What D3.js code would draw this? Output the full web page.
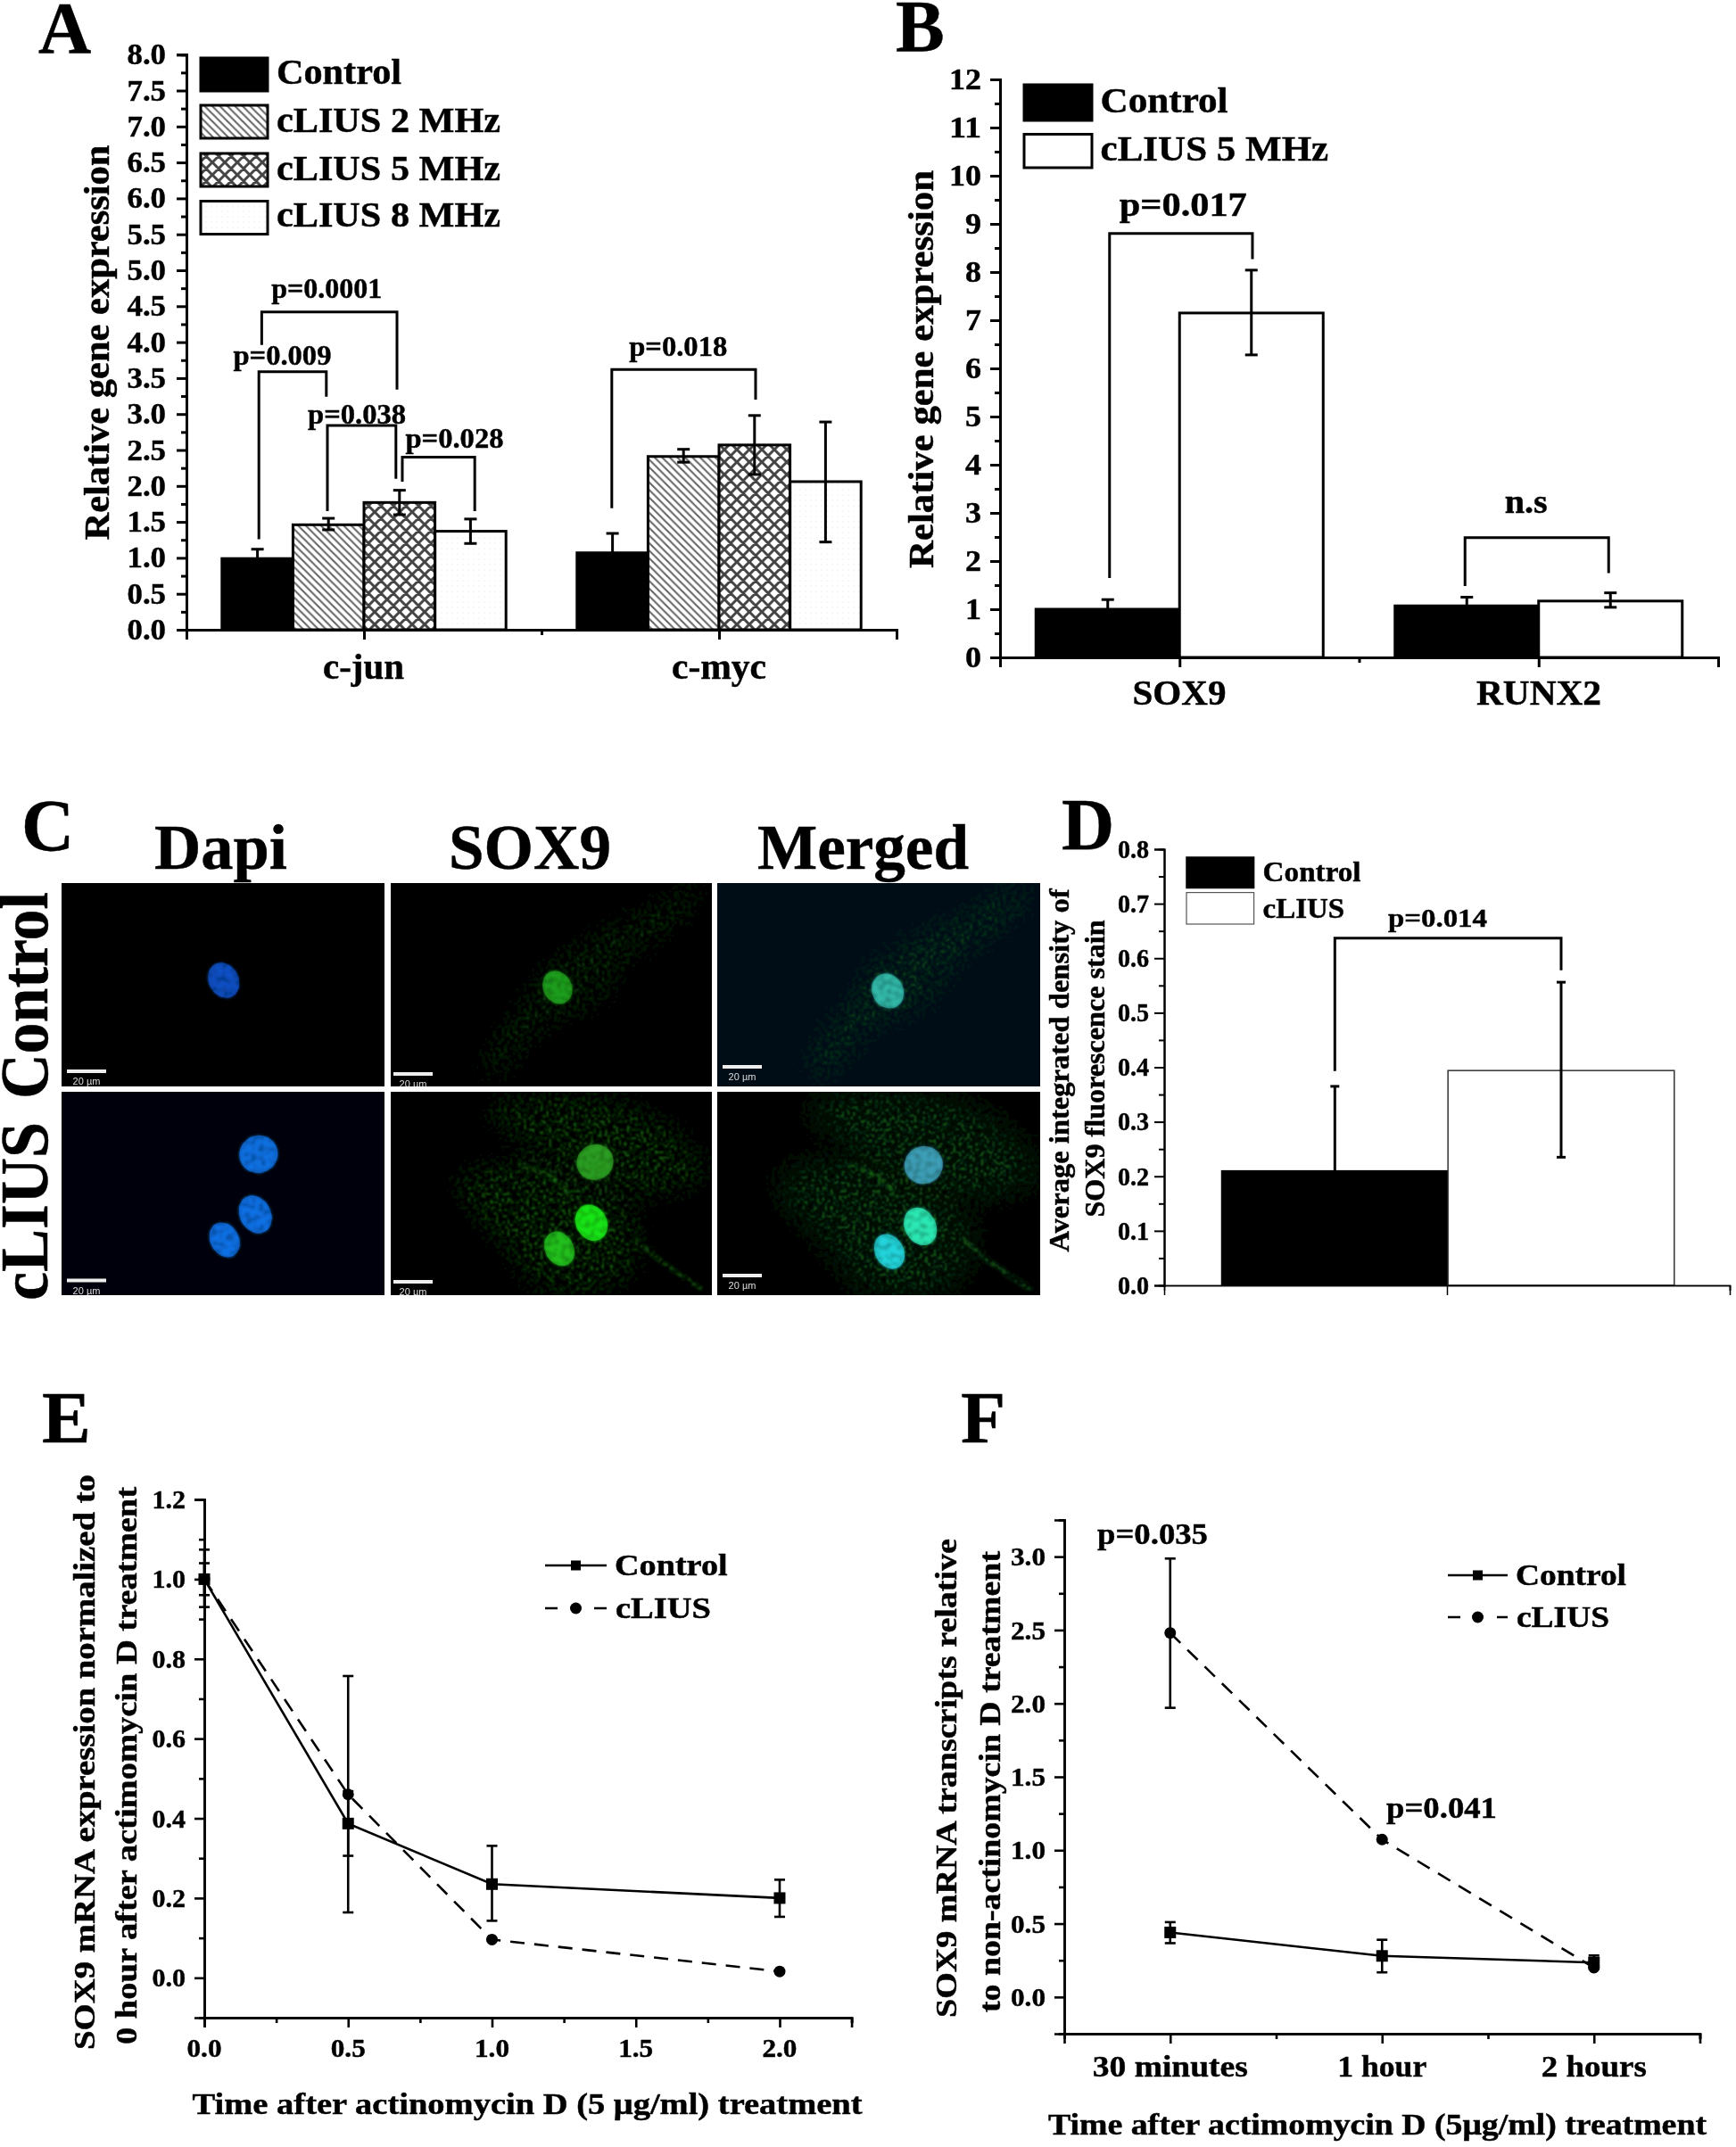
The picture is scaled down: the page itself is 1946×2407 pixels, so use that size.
<!DOCTYPE html>
<html><head><meta charset="utf-8">
<script src="https://d3js.org/d3.v7.min.js"></script>
<style>
html,body{margin:0;padding:0;background:#fff}
svg{display:block}
text{font-family:"Liberation Serif",serif;font-weight:700;fill:#000;stroke:#000;stroke-width:.45px}
text.sans{font-family:"Liberation Sans",sans-serif;font-weight:400;stroke:none}
</style></head><body>
<script>
// ---------- data ----------
const aCategories=["c-jun","c-myc"];
const aSeries=["Control","cLIUS 2 MHz","cLIUS 5 MHz","cLIUS 8 MHz"];
const aValues=[[0.99,1.46,1.77,1.37],[1.07,2.41,2.57,2.06]];
const aErrLow=[[0.86,1.39,1.60,1.20],[0.80,2.33,2.16,1.22]];
const aErrHigh=[[1.12,1.55,1.94,1.54],[1.34,2.51,2.98,2.89]];
const aBrackets=[
 {label:"p=0.0001",x0:0.712,x1:1.093,top:4.42,l:3.96,r:3.34,tx:0.895,ty:4.62,len:124},
 {label:"p=0.009",x0:0.704,x1:0.894,top:3.59,l:1.26,r:3.24,tx:0.77,ty:3.68,len:110},
 {label:"p=0.038",x0:0.897,x1:1.090,top:2.84,l:1.65,r:2.10,tx:0.98,ty:2.87,len:110},
 {label:"p=0.028",x0:1.108,x1:1.312,top:2.40,l:2.06,r:1.65,tx:1.255,ty:2.53,len:110},
 {label:"p=0.018",x0:1.698,x1:2.103,top:3.62,l:1.69,r:3.20,tx:1.885,ty:3.81,len:110}];
const aTicks=["0.0","0.5","1.0","1.5","2.0","2.5","3.0","3.5","4.0","4.5","5.0","5.5","6.0","6.5","7.0","7.5","8.0"];

const bCategories=["SOX9","RUNX2"];
const bSeries=["Control","cLIUS 5 MHz"];
const bValues=[[1.0,7.15],[1.07,1.17]];
const bErrLow=[[0.84,6.28],[0.95,1.04]];
const bErrHigh=[[1.20,8.04],[1.25,1.34]];
const bBrackets=[
 {label:"p=0.017",x0:0.805,x1:1.203,top:8.80,l:1.65,r:8.27,tx:1.01,ty:9.17,len:143},
 {label:"n.s",x0:1.795,x1:2.195,top:2.485,l:1.48,r:1.75,tx:1.965,ty:3.0,len:48}];

const dSeries=["Control","cLIUS"];
const dValues=[0.21,0.394];
const dErrLow=[0.055,0.235];
const dErrHigh=[0.365,0.556];
const dBracket={label:"p=0.014",top:0.637,l:0.393,r:0.578};

const eTimes=[0,0.5,1,2];
const eControl=[1.0,0.387,0.235,0.20];
const eControlLow=[0.93,0.306,0.143,0.153];
const eControlHigh=[1.074,0.468,0.331,0.246];
const eLius=[1.0,0.46,0.096,0.016];
const eLiusLow=[0.96,0.164,0.096,0.016];
const eLiusHigh=[1.04,0.757,0.096,0.016];

const fLabels=["30 minutes","1 hour","2 hours"];
const fControl=[0.44,0.28,0.235];
const fControlLow=[0.367,0.168,0.19];
const fControlHigh=[0.51,0.39,0.283];
const fLius=[2.48,1.073,0.20];
const fLiusLow=[1.97,1.073,0.20];
const fLiusHigh=[2.987,1.073,0.20];

const cColumns=["Dapi","SOX9","Merged"];
const cRows=["Control","cLIUS"];
// nuclei of each micrograph: fraction across, fraction down, radii, colour
const cNuclei=[
 [[[.502,.478,.046,.090,"#0c50c4"]],
  [[.519,.513,.044,.084,"#1e9e1c"]],
  [[.528,.531,.048,.088,"#30b8a8"]]],
 [[[.610,.307,.060,.092,"#0f6fe0"],[.600,.603,.048,.097,"#0f70e4"],[.505,.728,.044,.090,"#0f70e4"]],
  [[.636,.346,.0580,.086,"#2c9e22"],[.625,.644,.048,.092,"#18e614"],[.525,.772,.044,.088,"#20c01c"]],
  [[.639,.360,.060,.092,"#3c9fb8"],[.629,.662,.048,.097,"#2ce8b4"],[.533,.785,.044,.090,"#24d4dc"]]]];
const cCellTop=[[.92,.02],[.98,.03],[.88,.22],[.72,.42],[.66,.58],[.52,.68],[.42,.80],[.34,.96],[.28,.92],[.34,.72],[.42,.56],[.46,.44],[.62,.26],[.78,.14]];
const cCellA=[[.30,.08],[.6,.02],[.85,.15],[.98,.40],[.85,.50],[.65,.48],[.5,.35]];
const cCellB=[[.20,.45],[.40,.35],[.6,.45],[.75,.6],[.78,.78],[.70,.95],[.48,.98],[.35,.75]];
const cTail=[[.76,.72],[.84,.83],[.97,.97]];
const cFibre=[[.40,.36],[.50,.42],[.56,.52]];

// ---------- setup ----------
const svg=d3.select("body").append("svg").attr("width",1946).attr("height",2407).attr("viewBox","0 0 1946 2407");
svg.append("rect").attr("width",1946).attr("height",2407).attr("fill","#fff");
const defs=svg.append("defs");
const soft=defs.append("filter").attr("id","soft").attr("filterUnits","userSpaceOnUse").attr("x",0).attr("y",0).attr("width",1946).attr("height",2407);
soft.append("feGaussianBlur").attr("stdDeviation",0.75);
function speck(id,freq,blur,gain,off,seed){
 const f=defs.append("filter").attr("id",id).attr("x","-30%").attr("y","-30%").attr("width","160%").attr("height","160%");
 f.append("feTurbulence").attr("type","fractalNoise").attr("baseFrequency",freq).attr("numOctaves",1).attr("seed",seed).attr("result","n");
 f.append("feColorMatrix").attr("in","n").attr("type","matrix").attr("values",`0 0 0 0 0 0 0 0 0 0 0 0 0 0 0 ${gain} 0 0 0 ${off}`).attr("result","a");
 f.append("feGaussianBlur").attr("in","SourceGraphic").attr("stdDeviation",blur).attr("result","b");
 f.append("feComposite").attr("in","b").attr("in2","a").attr("operator","in").attr("result","c");
 f.append("feGaussianBlur").attr("in","c").attr("stdDeviation",0.8);
}
speck("cell",0.32,14,6,-3.0,4);
speck("tail",0.25,1.5,6,-2.4,9);
speck("nuc",0.16,1.2,2.4,-0.4,7);
const p1=defs.append("pattern").attr("id","hatch").attr("patternUnits","userSpaceOnUse").attr("width",8.5).attr("height",8.5);
p1.append("path").attr("d","M-2,-2L10.5,10.5M-2,6.5L2,10.5M6.5,-2L10.5,2").attr("stroke","#666").attr("stroke-width",2.1);
const p2=defs.append("pattern").attr("id","cross").attr("patternUnits","userSpaceOnUse").attr("width",14).attr("height",14);
p2.append("rect").attr("width",14).attr("height",14).attr("fill","#fff");
p2.append("path").attr("d","M-2,-2L16,16M16,-2L-2,16M-2,12L2,16M12,-2L16,2M2,-2L-2,2M16,12L12,16").attr("stroke","#444").attr("stroke-width",3);
const p3=defs.append("pattern").attr("id","dots").attr("patternUnits","userSpaceOnUse").attr("width",6).attr("height",6);
p3.append("circle").attr("cx",3).attr("cy",3).attr("r",0.6).attr("fill","#dcdcdc");
const fills=["#000","url(#hatch)","url(#cross)","url(#dots)"];

const root=svg.append("g").attr("filter","url(#soft)");
function txt(x,y,s,size,len,opt={}){
 const t=root.append("text").attr("font-size",size).text(s)
  .attr("text-anchor",opt.anchor||"start");
 if(opt.rot) t.attr("transform",`translate(${x},${y}) rotate(-90)`); else t.attr("x",x).attr("y",y);
 if(len) t.attr("textLength",len).attr("lengthAdjust","spacingAndGlyphs");
 return t;
}
// axis pair: major with labels, minor without
function leftAxis(y,x,major,minor,fmt,size,charLen,sw=3,pad=10){
 const g=root.append("g").attr("transform",`translate(${x},0)`);
 const m=g.append("g").call(d3.axisLeft(y).tickValues(major).tickSize(11).tickPadding(pad).tickFormat(fmt));
 g.append("g").call(d3.axisLeft(y).tickValues(minor).tickSize(6).tickFormat(""));
 g.selectAll("path,line").attr("stroke","#000").attr("stroke-width",sw);
 m.selectAll("text").attr("font-size",size).attr("font-family",null).attr("fill","#000")
  .each(function(){const s=d3.select(this).text();d3.select(this).attr("textLength",s.length*charLen).attr("lengthAdjust","spacingAndGlyphs");});
 return g;
}
function bottomAxis(x,y,major,minor,sw=3){
 const g=root.append("g").attr("transform",`translate(0,${y})`);
 g.append("g").call(d3.axisBottom(x).tickValues(major).tickSize(11).tickFormat(""));
 g.append("g").call(d3.axisBottom(x).tickValues(minor).tickSize(6).tickFormat(""));
 g.selectAll("path,line").attr("stroke","#000").attr("stroke-width",sw);
 return g;
}
function errBar(cx,lo,hi,cap,sw=3){
 const g=root.append("g").attr("stroke","#000").attr("stroke-width",sw);
 g.append("line").attr("x1",cx).attr("x2",cx).attr("y1",lo).attr("y2",hi);
 [lo,hi].forEach(v=>g.append("line").attr("x1",cx-cap).attr("x2",cx+cap).attr("y1",v).attr("y2",v));
}
function bracket(x0,x1,top,l,r,sw=3){
 root.append("path").attr("fill","none").attr("stroke","#000").attr("stroke-width",sw)
  .attr("d",d3.line()([[x0,l],[x0,top],[x1,top],[x1,r]]));
}
function swatch(x,y,w,h,fill,sw=3,stroke="#000"){
 root.append("rect").attr("x",x).attr("y",y).attr("width",w).attr("height",h).attr("fill",fill).attr("stroke",stroke).attr("stroke-width",sw);
}

// ---------- panel letters ----------
[["A",43,59],["B",1004,57],["C",24,953],["D",1190,952],["E",47,1617],["F",1077,1617]].forEach(d=>txt(d[1],d[2],d[0],82));

// ---------- panel A ----------
{
 const x=d3.scaleLinear().domain([0.5,2.5]).range([209,1005]);
 const y=d3.scaleLinear().domain([0,8]).range([706,61.2]);
 const w=x(1.2)-x(1);
 aCategories.forEach((c,ci)=>aSeries.forEach((s,si)=>{
  const left=x(ci+1+(si-2)*0.2);
  root.append("rect").attr("x",left).attr("y",y(aValues[ci][si])).attr("width",w).attr("height",y(0)-y(aValues[ci][si]))
   .attr("fill",fills[si]).attr("stroke","#000").attr("stroke-width",3);
 }));
 aCategories.forEach((c,ci)=>aSeries.forEach((s,si)=>{
  errBar(x(ci+1+(si-2)*0.2)+w/2,y(aErrLow[ci][si]),y(aErrHigh[ci][si]),7);
 }));
 leftAxis(y,x(0.5),aTicks.map(Number),d3.range(0.25,8,0.5),d3.format(".1f"),33,14.5,3,12);
 bottomAxis(x,y(0),[1,2],[0.5,1.5,2.5]);
 aBrackets.forEach(b=>{
  bracket(x(b.x0),x(b.x1),y(b.top),y(b.l),y(b.r));
  txt(x(b.tx),y(b.ty),b.label,32,b.len,{anchor:"middle"});
 });
 txt(122,384,"Relative gene expression",39,443,{rot:1,anchor:"middle"});
 txt(407.5,761,aCategories[0],39,91,{anchor:"middle"});
 txt(806,761,aCategories[1],39,106,{anchor:"middle"});
 const rows=[65,118,172,225.5], bases=[94.4,148,201.5,254], lens=[140,251,251,251];
 aSeries.forEach((s,i)=>{swatch(225,rows[i],75,37,i==0?"#000":fills[i]);txt(310,bases[i],s,39,lens[i]);});
}

// ---------- panel B ----------
{
 const x=d3.scaleLinear().domain([0.5,2.5]).range([1121,1926]);
 const y=d3.scaleLinear().domain([0,12]).range([737,89]);
 const w=x(1.4)-x(1);
 bCategories.forEach((c,ci)=>bSeries.forEach((s,si)=>{
  const left=x(ci+1+(si-1)*0.4);
  root.append("rect").attr("x",left).attr("y",y(bValues[ci][si])).attr("width",w).attr("height",y(0)-y(bValues[ci][si]))
   .attr("fill",si?"#fff":"#000").attr("stroke","#000").attr("stroke-width",3);
 }));
 bCategories.forEach((c,ci)=>bSeries.forEach((s,si)=>{
  errBar(x(ci+1+(si-1)*0.4)+w/2,y(bErrLow[ci][si]),y(bErrHigh[ci][si]),7);
 }));
 leftAxis(y,x(0.5),d3.range(0,13),d3.range(0.5,12,1),d3.format("d"),33,18,3,10);
 bottomAxis(x,y(0),[1,2],[0.5,1.5,2.5]);
 bBrackets.forEach(b=>{
  bracket(x(b.x0),x(b.x1),y(b.top),y(b.l),y(b.r));
  txt(x(b.tx),y(b.ty),b.label,38,b.len,{anchor:"middle"});
 });
 txt(1046,414,"Relative gene expression",39,446,{rot:1,anchor:"middle"});
 txt(1322,790,bCategories[0],39,105,{anchor:"middle"});
 txt(1725,790,bCategories[1],39,140,{anchor:"middle"});
 swatch(1148,95,76,40,"#000");swatch(1148,150.5,76,37.5,"#fff");
 txt(1233.6,126,bSeries[0],39,143);txt(1233.6,180,bSeries[1],39,255.6);
}

// ---------- panel C ----------
{
 const colX=[[69,431],[438,798],[804,1166]], rowY=[[990,1218],[1224,1452]];
 const heads=[[173,149],[503,182],[849,237]];
 cColumns.forEach((c,i)=>txt(heads[i][0],974,c,71,heads[i][1]));
 txt(53,1116,cRows[0],76,232,{rot:1,anchor:"middle"});
 txt(53,1358,cRows[1],76,200,{rot:1,anchor:"middle"});
 const barsY=[[1201,1204,1196],[1435.5,1437,1430]];
 const barX=[75,441,810];
 cRows.forEach((r,ri)=>cColumns.forEach((c,ci)=>{
  const fx=d3.scaleLinear().domain([0,1]).range(colX[ci]);
  const fy=d3.scaleLinear().domain([0,1]).range(rowY[ri]);
  const g=root.append("g");
  const id=`clip${ri}${ci}`;
  defs.append("clipPath").attr("id",id).append("rect").attr("x",fx(0)).attr("y",fy(0)).attr("width",fx(1)-fx(0)).attr("height",fy(1)-fy(0));
  g.attr("clip-path",`url(#${id})`);
  g.append("rect").attr("x",fx(0)).attr("y",fy(0)).attr("width",fx(1)-fx(0)).attr("height",fy(1)-fy(0)).attr("fill",ci==2&&ri==0?"#000e18":ci==0&&ri==1?"#000208":ci==2?"#000506":"#000");
  if(ci>0){
   const line=d3.line().x(d=>fx(d[0])).y(d=>fy(d[1])).curve(d3.curveCatmullRomClosed);
   const open=d3.line().x(d=>fx(d[0])).y(d=>fy(d[1])).curve(d3.curveCatmullRom);
   const shapes=ri==0?[cCellTop]:[cCellA,cCellB];
   shapes.forEach(s=>g.append("path").attr("d",line(s)).attr("fill","#22a01e").attr("opacity",ri==0?0.42:0.62).attr("filter","url(#cell)"));
   if(ri==1)[cTail,cFibre].forEach(s=>g.append("path").attr("d",open(s)).attr("fill","none").attr("stroke","#22a01e").attr("stroke-width",4).attr("opacity",.6).attr("filter","url(#tail)"));
  }
  cNuclei[ri][ci].forEach(n=>{
   const cx=fx(n[0]),cy=fy(n[1]);
   const rot=`rotate(-28 ${cx} ${cy})`;
   g.append("ellipse").attr("cx",cx).attr("cy",cy).attr("rx",(fx(n[2])-fx(0))).attr("ry",(fy(n[3])-fy(0)))
    .attr("transform",rot).attr("fill",n[4]).attr("opacity",.66);
   g.append("ellipse").attr("cx",cx).attr("cy",cy).attr("rx",(fx(n[2])-fx(0))).attr("ry",(fy(n[3])-fy(0)))
    .attr("transform",rot).attr("fill",n[4]).attr("filter","url(#nuc)");
  });
  g.append("rect").attr("x",barX[ci]).attr("y",barsY[ri][ci]-2).attr("width",44).attr("height",4).attr("fill","#eee");
  g.append("text").attr("class","sans").attr("x",barX[ci]+22).attr("y",barsY[ri][ci]+15).attr("text-anchor","middle").attr("font-size",11).style("fill","#ddd").text("20 µm");
 }));
}

// ---------- panel D ----------
{
 const x=d3.scaleLinear().domain([0,2]).range([1369.5,1876.8]);
 const y=d3.scaleLinear().domain([0,0.8]).range([1441,952]);
 dSeries.forEach((s,i)=>{
  root.append("rect").attr("x",x(i)).attr("y",y(dValues[i])).attr("width",x(1)-x(0)).attr("height",y(0)-y(dValues[i]))
   .attr("fill",i?"#fff":"#000").attr("stroke",i?"#333":"#000").attr("stroke-width",1.5);
 });
 dSeries.forEach((s,i)=>errBar(x(i+0.5),y(dErrLow[i]),y(dErrHigh[i]),5));
 leftAxis(y,1305,d3.range(0,0.81,0.1),d3.range(0.05,0.8,0.1),d3.format(".1f"),29,11.7,2,6);
 const xa=d3.scaleLinear().domain([-0.25,2.25]).range([1305,1939]);
 bottomAxis(xa,y(0),[1],[2.25],1.5);
 bracket(x(0.5),x(1.5),y(dBracket.top),y(dBracket.l),y(dBracket.r));
 txt(1611.5,1039,dBracket.label,30,111,{anchor:"middle"});
 txt(1198,1200,"Average integrated density of",31,407,{rot:1,anchor:"middle"});
 txt(1238,1198,"SOX9 fluorescence stain",31,333,{rot:1,anchor:"middle"});
 swatch(1330,961,75.6,34.5,"#000",1.5);swatch(1330,1000.6,75.6,35.4,"#fff",1.2,"#555");
 txt(1415.6,988,dSeries[0],31,110);txt(1415.6,1028.5,dSeries[1],31,91.6);
}

// ---------- line panels ----------
function series(x,y,xs,vals,lo,hi,dash,marker,sz,cap){
 const line=d3.line().x((d,i)=>x(xs[i])).y(d=>y(d));
 root.append("path").attr("d",line(vals)).attr("fill","none").attr("stroke","#000").attr("stroke-width",2.6).attr("stroke-dasharray",dash);
 vals.forEach((v,i)=>{
  if(lo[i]!==v||hi[i]!==v) errBar(x(xs[i]),y(lo[i]),y(hi[i]),cap,2.6);
  mark(x(xs[i]),y(v),marker,sz);
 });
}
function mark(cx,cy,m,sz){
 if(m=="s") root.append("rect").attr("x",cx-sz).attr("y",cy-sz).attr("width",2*sz).attr("height",2*sz).attr("fill","#000");
 else root.append("circle").attr("cx",cx).attr("cy",cy).attr("r",sz).attr("fill","#000");
}
function lineLegend(x0,x1,tx,y0,y1,b0,b1,l0,l1,size){
 root.append("line").attr("x1",x0).attr("x2",x1).attr("y1",y0).attr("y2",y0).attr("stroke","#000").attr("stroke-width",2.6);
 mark((x0+x1)/2,y0,"s",5.5);
 root.append("line").attr("x1",x0).attr("x2",x1).attr("y1",y1).attr("y2",y1).attr("stroke","#000").attr("stroke-width",2.6).attr("stroke-dasharray","14,41,14");
 mark((x0+x1)/2,y1,"c",6.5);
 txt(tx,b0,"Control",size,l0);txt(tx+1,b1,"cLIUS",size,l1);
}

// panel E
{
 const x=d3.scaleLinear().domain([0,2.25]).range([229,954.6]);
 const y=d3.scaleLinear().domain([-0.1,1.2]).range([2262,1681]);
 series(x,y,eTimes,eLius,eLiusLow,eLiusHigh,"16,11","c",6.5,6);
 series(x,y,eTimes,eControl,eControlLow,eControlHigh,null,"s",6.5,6);
 leftAxis(y,x(0),[0,.2,.4,.6,.8,1,1.2],[-0.1,.1,.3,.5,.7,.9,1.1],d3.format(".1f"),30,12.5,2.6,10);
 bottomAxis(x,y(-0.1),[0,.5,1,1.5,2],[.25,.75,1.25,1.75,2.25],2.6);
 [0,.5,1,1.5,2].forEach(v=>txt(x(v),2306,v.toFixed(1),30,39,{anchor:"middle"}));
 txt(106,1975.5,"SOX9 mRNA expression normalized to",33,645,{rot:1,anchor:"middle"});
 txt(153,1979.5,"0 hour after actimomycin D treatment",33,625,{rot:1,anchor:"middle"});
 txt(215.6,2370,"Time after actinomycin D (5 μg/ml) treatment",33,751);
 lineLegend(611,680,689,1755,1803,1765.5,1813.5,126.6,107,33);
}

// panel F
{
 const x=d3.scaleLinear().domain([0.5,3.5]).range([1193,1905.5]);
 const y=d3.scaleLinear().domain([-0.25,3.25]).range([2280,1704]);
 const xs=[1,2,3];
 series(x,y,xs,fLius,fLiusLow,fLiusHigh,"16,11","c",6.5,6);
 series(x,y,xs,fControl,fControlLow,fControlHigh,null,"s",6.5,6);
 leftAxis(y,x(0.5),[0,.5,1,1.5,2,2.5,3],[-.25,.25,.75,1.25,1.75,2.25,2.75,3.25],d3.format(".1f"),30,13,2.6,10);
 bottomAxis(x,y(-0.25),xs,[.5,1.5,2.5,3.5],2.6);
 const lens=[174,100,118];
 fLabels.forEach((s,i)=>txt(x(i+1),2328,s,34,lens[i],{anchor:"middle"}));
 txt(1072,1993.5,"SOX9 mRNA transcripts relative",33,537,{rot:1,anchor:"middle"});
 txt(1120.5,1997.5,"to non-actinomycin D treatment",33,517,{rot:1,anchor:"middle"});
 txt(1175,2393,"Time after actimomycin D (5μg/ml) treatment",33,738);
 txt(1230,1731,"p=0.035",34,124);txt(1554,2038,"p=0.041",34,124);
 lineLegend(1623,1690,1699,1766,1813,1776.5,1823.5,124,104,33);
}
</script>
</body></html>
